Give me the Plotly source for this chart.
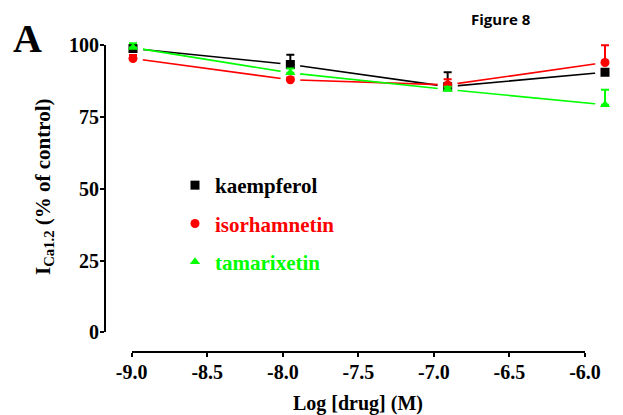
import plotly.graph_objects as go

log_dose = [-9.0, -8.0, -7.0, -6.0]
x_ticks = [-9.0, -8.5, -8.0, -7.5, -7.0, -6.5, -6.0]
x_tick_labels = ["-9.0", "-8.5", "-8.0", "-7.5", "-7.0", "-6.5", "-6.0"]
y_ticks = [0, 25, 50, 75, 100]

kaempferol = [98.9, 93.3, 85.6, 90.6]
kaempferol_err = [0.8, 3.4, 5.0, 0.5]
isorhamnetin = [95.4, 88.0, 86.2, 94.0]
isorhamnetin_err = [1.2, 0.8, 2.0, 6.0]
tamarixetin = [99.2, 90.4, 84.6, 79.3]
tamarixetin_err = [1.5, 1.5, 1.0, 5.2]

series = [
    ("kaempferol", kaempferol, kaempferol_err, "#000000", "square"),
    ("isorhamnetin", isorhamnetin, isorhamnetin_err, "#FF0000", "circle"),
    ("tamarixetin", tamarixetin, tamarixetin_err, "#00FF00", "triangle-up"),
]

W, H = 623, 415
OFF = 8  # page body margin; targets below are in screen pixels
ml, mr, mt, mb = 97, 5, 18, 71
pw = W - ml - mr
ph = H - mt - mb

def px_x(p):
    return (p - OFF - ml) / pw

def px_y(p):
    return (H - mb - (p - OFF)) / ph

# screen positions of the data frame (points) and the drawn axes
x_lo_px, x_hi_px = 133.0, 605.0      # -9 and -6 of the data points
y0_px, y100_px = 332.3, 45.3         # 0 and 100 on the y axis
xr = [-9.1, -5.9]
yr = [-5, 105]
xs = (x_hi_px - x_lo_px) / 3.0
ys = (y0_px - y100_px) / 100.0
data_xdom = [px_x(x_lo_px + (xr[0] + 9) * xs), px_x(x_lo_px + (xr[1] + 9) * xs)]
data_ydom = [px_y(y0_px - yr[0] * ys), px_y(y0_px - yr[1] * ys)]

serif = "Liberation Serif"
fig = go.Figure()

# connecting lines
for name, vals, err, col, sym in series:
    fig.add_trace(go.Scatter(
        x=log_dose, y=vals, mode="lines", line=dict(color=col, width=1.6),
        showlegend=False, hoverinfo="skip", xaxis="x", yaxis="y2"))
# white gaps around the symbols (lines stop short of the points)
for name, vals, err, col, sym in series:
    fig.add_trace(go.Scatter(
        x=log_dose, y=vals, mode="markers",
        marker=dict(color="white", symbol="circle", size=20),
        showlegend=False, hoverinfo="skip", xaxis="x", yaxis="y2"))
# symbols with error bars
for name, vals, err, col, sym in series:
    fig.add_trace(go.Scatter(
        x=log_dose, y=vals, mode="markers",
        marker=dict(color=col, symbol=sym, size=9),
        error_y=dict(type="data", symmetric=False, array=err,
                     arrayminus=[0] * len(err), color=col, thickness=2, width=4),
        name=f"<span style='color:{col}'><b>{name}</b></span>",
        legendgroup=name, xaxis="x", yaxis="y2"))

# empty trace to keep the drawn axes alive
fig.add_trace(go.Scatter(x=[], y=[], xaxis="x2", yaxis="y", showlegend=False))

fig.update_layout(
    width=W, height=H,
    margin=dict(l=ml, r=mr, t=mt, b=mb, autoexpand=False),
    paper_bgcolor="white", plot_bgcolor="rgba(0,0,0,0)",
    font=dict(family=serif, color="black"),
    xaxis=dict(domain=data_xdom, range=xr, visible=False,
               anchor="y2", automargin=False),
    yaxis2=dict(domain=data_ydom, range=yr, visible=False,
                anchor="x", automargin=False),
    xaxis2=dict(domain=[px_x(131.7), px_x(585)], range=[-9, -6],
                anchor="free", position=px_y(352), showline=True,
                linecolor="black",
                linewidth=2, ticks="outside", ticklen=4, tickwidth=2,
                tickcolor="black", tickvals=x_ticks, ticktext=x_tick_labels,
                ticklabelstandoff=-2,
                tickfont=dict(family=serif, size=20, color="black", weight="bold"),
                showgrid=False, zeroline=False, automargin=False),
    yaxis=dict(domain=[px_y(y0_px), px_y(y100_px)], range=[0, 100],
               anchor="free", position=px_x(105), showline=True,
               linecolor="black",
               linewidth=2, ticks="outside", ticklen=4, tickwidth=2,
               tickcolor="black", tickvals=y_ticks, ticklabelstandoff=-3,
               tickfont=dict(family=serif, size=20, color="black", weight="bold"),
               showgrid=False, zeroline=False, automargin=False),
    legend=dict(x=px_x(175), y=px_y(165), xanchor="left", yanchor="top",
                bgcolor="rgba(0,0,0,0)", tracegroupgap=8,
                font=dict(family=serif, size=21)),
    showlegend=True,
)

def note(text, x, y, size, family=serif, angle=0):
    fig.add_annotation(text=text, xref="paper", yref="paper",
                       x=px_x(x), y=px_y(y), xanchor="center", yanchor="middle",
                       showarrow=False, textangle=angle,
                       font=dict(family=family, size=size, color="black"))

note("<b>A</b>", 27, 38, 40)
note("<b>Figure 8</b>", 501, 19, 15, family="Open Sans")
note("<b>I<sub>Ca1.2</sub> (% of control)</b>", 44, 187, 21, angle=-90)
note("<b>Log [drug] (M)</b>", 358, 403, 20)

fig.write_html("out.html")
